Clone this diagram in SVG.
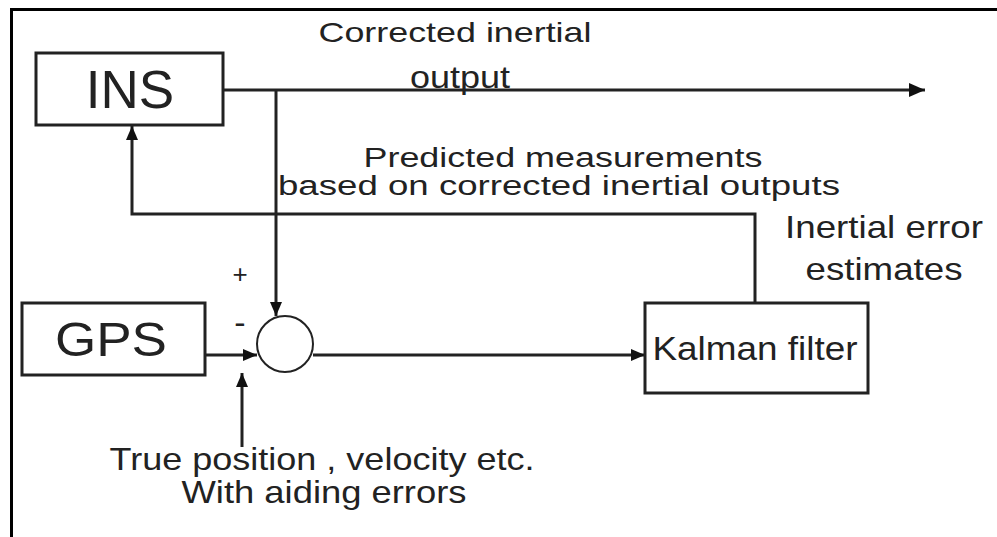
<svg xmlns="http://www.w3.org/2000/svg" width="997" height="537" viewBox="0 0 997 537">
<style>
.box{fill:#fff;stroke:#222;stroke-width:3}
.ln{fill:none;stroke:#222;stroke-width:3}
.t{font-family:"Liberation Sans",Arial,sans-serif;fill:#222;text-anchor:middle}
.lbl{font-size:32px}
</style>
<defs>
<marker id="ah" viewBox="0 0 16 14" refX="16" refY="7" markerWidth="16" markerHeight="14" markerUnits="userSpaceOnUse" orient="auto">
<path d="M0,0 L16,7 L0,14 z" fill="#111"/>
</marker>
<marker id="ahs" viewBox="0 0 14 12" refX="14" refY="6" markerWidth="14" markerHeight="12" markerUnits="userSpaceOnUse" orient="auto">
<path d="M0,0 L14,6 L0,12 z" fill="#111"/>
</marker>
</defs>
<rect width="997" height="537" fill="#fff"/>
<path d="M11.5,537 V9.5 H997" fill="none" stroke="#000" stroke-width="3"/>
<g id="connectors">
<path class="ln" d="M223,90 H313" stroke-width="4"/>
<path class="ln" d="M313,90 H610" stroke-width="2"/>
<path class="ln" d="M610,90 H925" stroke-width="4" marker-end="url(#ah)"/>
<path class="ln" d="M276,90 V316" stroke-width="2" marker-end="url(#ahs)"/>
<path class="ln" d="M755,302 V214 H132 V126" marker-end="url(#ahs)"/>
<path class="ln" d="M205,355 H257" stroke-width="2" marker-end="url(#ahs)"/>
<path class="ln" d="M242,447 V373" marker-end="url(#ahs)"/>
<path class="ln" d="M313,355 H645" stroke-width="2" marker-end="url(#ahs)"/>
</g>
<g id="ins">
<rect class="box" x="36" y="53" width="187" height="72"/>
<text class="t" x="130" y="108" font-size="53">INS</text>
</g>
<g id="gps">
<rect class="box" x="22" y="303" width="183" height="72"/>
<text class="t" x="111" y="356" font-size="48" textLength="112" lengthAdjust="spacingAndGlyphs">GPS</text>
</g>
<g id="sum">
<circle cx="285" cy="344" r="28" fill="#fff" stroke="#222" stroke-width="2"/>
<text class="t" x="240" y="283" font-size="26">+</text>
<text class="t" x="240" y="334" font-size="34">-</text>
</g>
<g id="kalman">
<rect class="box" x="645" y="303" width="223" height="90"/>
<text class="t" x="755" y="360" font-size="34" textLength="205" lengthAdjust="spacingAndGlyphs">Kalman filter</text>
</g>
<g id="labels">
<text class="t" font-size="28" x="455" y="42" textLength="273" lengthAdjust="spacingAndGlyphs">Corrected inertial</text>
<text class="t" font-size="32" x="460" y="88" textLength="100" lengthAdjust="spacingAndGlyphs">output</text>
<text class="t" font-size="27" x="563" y="167" textLength="399" lengthAdjust="spacingAndGlyphs">Predicted measurements</text>
<text class="t" font-size="27" x="559" y="195" textLength="562" lengthAdjust="spacingAndGlyphs">based on corrected inertial outputs</text>
<text class="t lbl" x="884" y="238" textLength="198" lengthAdjust="spacingAndGlyphs">Inertial error</text>
<text class="t lbl" x="884" y="280" textLength="157" lengthAdjust="spacingAndGlyphs">estimates</text>
<text class="t lbl" x="322" y="470" textLength="425" lengthAdjust="spacingAndGlyphs">True position , velocity etc.</text>
<text class="t lbl" x="324" y="503" textLength="285" lengthAdjust="spacingAndGlyphs">With aiding errors</text>
</g>
</svg>
